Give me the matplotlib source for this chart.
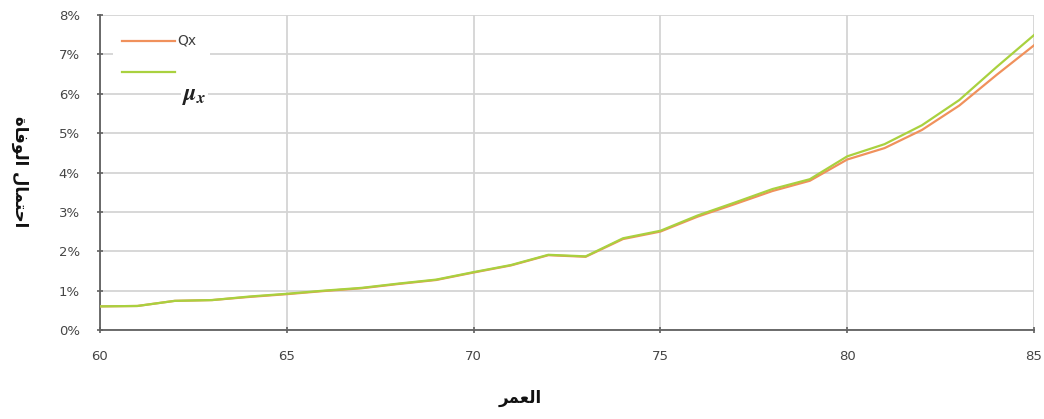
import matplotlib
matplotlib.use("Agg")
import matplotlib.pyplot as plt
from matplotlib.patches import Rectangle
from matplotlib.ticker import FuncFormatter, MultipleLocator

plt.rcParams["mathtext.fontset"] = "stix"

# Ages and mortality measures (in %)
ages = [60, 61, 62, 63, 64, 65, 66, 67, 68, 69, 70, 71, 72,
        73, 74, 75, 76, 77, 78, 79, 80, 81, 82, 83, 84, 85]
qx = [0.60, 0.61, 0.74, 0.76, 0.84, 0.91, 0.99, 1.06, 1.17, 1.27, 1.46, 1.64, 1.90,
      1.86, 2.31, 2.50, 2.88, 3.20, 3.53, 3.79, 4.33, 4.62, 5.08, 5.70, 6.48, 7.23]
mux = [0.60, 0.61, 0.74, 0.76, 0.85, 0.92, 1.00, 1.07, 1.18, 1.28, 1.47, 1.65, 1.91,
       1.87, 2.33, 2.52, 2.91, 3.24, 3.58, 3.83, 4.41, 4.72, 5.20, 5.84, 6.68, 7.49]
x_ticks = [60, 65, 70, 75, 80, 85]

# Arabic labels in shaped presentation forms, visual order
ylabel = "\uFE93\uFE8E\uFED3\uFEEE\uFEDF\uFE8D \uFEDD\uFE8E\uFEE4\uFE98\uFEA3\uFE8D"
xlabel = "\uFEAE\uFEE4\uFECC\uFEDF\uFE8D"

fig = plt.figure(figsize=(10.44, 4.19), dpi=100)
ax = fig.add_axes([100 / 1044, 1 - 330 / 419, 934 / 1044, 315 / 419])

ax.plot(ages, qx, color="#F0915C", lw=1.6, zorder=3)
ax.plot(ages, mux, color="#A9D13F", lw=1.6, zorder=3)

ax.set_xlim(60, 85)
ax.set_ylim(0, 8)
ax.set_xticks(x_ticks)
ax.yaxis.set_major_locator(MultipleLocator(1))
ax.yaxis.set_major_formatter(FuncFormatter(lambda v, p: f"{v:.0f}%"))

ax.grid(True, color="#D4D4D4", lw=1.3, zorder=0)
for s in ("top", "right"):
    ax.spines[s].set_visible(False)
for s in ("left", "bottom"):
    ax.spines[s].set_color("#606060")
    ax.spines[s].set_linewidth(1.3)
ax.tick_params(axis="both", colors="#606060", labelcolor="#454545",
               labelsize=9.5, length=5, width=1.2, direction="inout")
ax.tick_params(axis="x", pad=12)
ax.tick_params(axis="y", pad=12)

# Legend drawn in axes coordinates, on a white patch over the grid
ax.add_patch(Rectangle((0.014, 0.80), 0.104, 0.16, transform=ax.transAxes,
                       facecolor="white", edgecolor="none", zorder=2))
ax.plot([0.024, 0.080], [0.918, 0.918], transform=ax.transAxes,
        color="#F0915C", lw=1.6, clip_on=False, zorder=4)
ax.text(0.083, 0.918, "Qx", transform=ax.transAxes, va="center", ha="left",
        fontsize=10, color="#404040", zorder=4)
ax.plot([0.024, 0.080], [0.820, 0.820], transform=ax.transAxes,
        color="#A9D13F", lw=1.6, clip_on=False, zorder=4)
ax.text(0.088, 0.745, r"$\boldsymbol{\mu}_{\boldsymbol{x}}$", transform=ax.transAxes,
        va="center", ha="left", fontsize=17, color="#202020", zorder=4,
        bbox=dict(facecolor="white", edgecolor="none", pad=1))

fig.text(20 / 1044, 1 - 172 / 419, ylabel, rotation=270, ha="center", va="center",
         fontsize=12, fontweight="bold", family="DejaVu Sans", color="#111111")
fig.text(520 / 1044, 1 - 398 / 419, xlabel, ha="center", va="center",
         fontsize=12, fontweight="bold", family="DejaVu Sans", color="#111111")

fig.savefig("out.png", dpi=100)
